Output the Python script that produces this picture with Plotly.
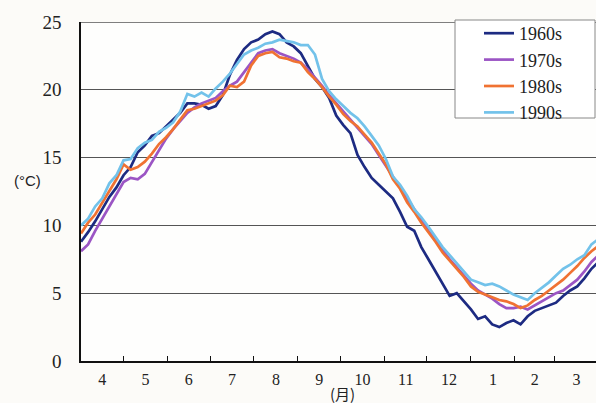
import plotly.graph_objects as go

# Day offsets from April 1 (every 5 days)
days = [5 * i for i in range(74)]

s1960 = [8.8, 9.5, 10.3, 11.2, 12.1, 12.8, 13.7, 14.3, 15.4, 15.9,
         16.6, 16.8, 17.3, 17.8, 18.3, 19.0, 19.0, 18.9, 18.6, 18.8,
         19.6, 21.1, 22.2, 23.0, 23.5, 23.7, 24.1, 24.3, 24.1, 23.5,
         23.2, 22.7, 21.8, 20.8, 20.2, 19.4, 18.1, 17.4, 16.8, 15.2,
         14.3, 13.5, 13.0, 12.5, 12.0, 11.0, 9.9, 9.6, 8.4, 7.5,
         6.6, 5.8, 4.8, 5.0, 4.4, 3.8, 3.1, 3.3, 2.7, 2.5,
         2.8, 3.0, 2.7, 3.3, 3.7, 3.9, 4.1, 4.3, 4.8, 5.2,
         5.5, 6.1, 6.8, 7.3]

s1970 = [8.1, 8.6, 9.6, 10.5, 11.4, 12.3, 13.2, 13.5, 13.4, 13.8,
         14.7, 15.6, 16.4, 17.1, 17.7, 18.3, 18.7, 19.0, 19.2, 19.4,
         19.9, 20.3, 20.6, 21.3, 22.0, 22.7, 22.9, 23.0, 22.7, 22.5,
         22.3, 22.0, 21.5, 20.9, 20.3, 19.6, 19.0, 18.4, 17.8, 17.2,
         16.6, 16.0, 15.2, 14.4, 13.5, 12.8, 12.0, 11.2, 10.4, 9.6,
         8.9, 8.2, 7.5, 6.9, 6.3, 5.7, 5.2, 4.9, 4.6, 4.2,
         3.9, 3.9, 4.0, 3.8, 4.1, 4.4, 4.7, 5.0, 5.2, 5.6,
         6.0, 6.6, 7.3, 7.8]

s1980 = [9.4, 10.2, 10.8, 11.7, 12.6, 13.4, 14.5, 14.1, 14.3, 14.7,
         15.3, 16.0, 16.5, 17.1, 17.8, 18.5, 18.6, 18.8, 19.0, 19.2,
         19.6, 20.3, 20.2, 20.6, 21.8, 22.5, 22.7, 22.8, 22.4, 22.3,
         22.1, 22.0, 21.3, 20.8, 20.2, 19.5, 18.9, 18.2, 17.7, 17.3,
         16.7, 16.1, 15.3, 14.5, 13.4, 12.7, 11.7, 11.0, 10.2, 9.5,
         8.8, 8.0, 7.4, 6.8, 6.2, 5.5, 5.1, 4.9, 4.7, 4.5,
         4.4, 4.2, 3.9, 4.1, 4.5, 4.8, 5.2, 5.6, 6.0, 6.5,
         7.0, 7.6, 8.1, 8.5]

s1990 = [10.0, 10.5, 11.4, 12.0, 13.1, 13.7, 14.8, 14.9, 15.7, 16.1,
         16.3, 16.9, 17.2, 17.6, 18.4, 19.7, 19.5, 19.8, 19.5, 20.1,
         20.6, 21.2, 21.9, 22.6, 22.9, 23.1, 23.4, 23.5, 23.7, 23.6,
         23.5, 23.3, 23.3, 22.6, 20.8, 19.9, 19.3, 18.8, 18.3, 17.9,
         17.3, 16.6, 15.9, 14.9, 13.6, 13.0, 12.2, 11.2, 10.6, 9.9,
         9.1, 8.4, 7.8, 7.2, 6.6, 6.0, 5.8, 5.6, 5.7, 5.5,
         5.2, 4.9, 4.7, 4.5, 5.0, 5.4, 5.8, 6.3, 6.8, 7.1,
         7.5, 7.8, 8.6, 9.0]

series_names = ["1960s", "1970s", "1980s", "1990s"]
series_values = [s1960, s1970, s1980, s1990]
series_colors = ["#1d2b82", "#9b55c4", "#f07232", "#72c2ea"]

month_labels = ["4", "5", "6", "7", "8", "9", "10", "11", "12", "1", "2", "3"]
month_lengths = [30, 31, 30, 31, 31, 30, 31, 30, 31, 31, 28, 31]

bounds = [0]
for m in month_lengths:
    bounds.append(bounds[-1] + m)
month_centers = [(bounds[k] + bounds[k + 1]) / 2 for k in range(12)]
month_bounds_inner = bounds[1:-1]

fig = go.Figure()
for name, vals, col in zip(series_names, series_values, series_colors):
    fig.add_trace(go.Scatter(x=days, y=vals, mode="lines", name=name,
                             line=dict(color=col, width=2.7)))

serif = "Liberation Serif"

fig.update_layout(
    width=596, height=403,
    margin=dict(l=81, r=0, t=22, b=42),
    paper_bgcolor="#fcfbf8",
    plot_bgcolor="#fefefd",
    font=dict(family=serif, color="#222"),
    showlegend=True,
    legend=dict(x=(479 - 81) / 515, y=(361 - 15) / 339,
                xanchor="left", yanchor="top",
                bgcolor="rgba(0,0,0,0)", borderwidth=0,
                font=dict(family=serif, size=18, color="#222"),
                tracegroupgap=0, itemwidth=30),
    xaxis=dict(range=[0, 363.2], showgrid=False, zeroline=False,
               showline=True, linecolor="#111", linewidth=1.5,
               tickmode="array", tickvals=month_centers, ticktext=month_labels,
               ticks="", tickfont=dict(family=serif, size=16, color="#222"),
               ticklabelstandoff=3,
               minor=dict(tickmode="array", tickvals=month_bounds_inner,
                          ticks="inside", ticklen=5, tickwidth=1.3,
                          tickcolor="#111", showgrid=False)),
    yaxis=dict(range=[0, 25], showgrid=True, gridcolor="#555", gridwidth=1.4,
               zeroline=False, showline=True, linecolor="#111", linewidth=1.5,
               tickmode="array", tickvals=[0, 5, 10, 15, 20, 25],
               ticks="", tickfont=dict(family=serif, size=19, color="#222"),
               ticklabelstandoff=14),
)

# top gridline at 25
fig.add_shape(type="line", xref="paper", yref="y", x0=0, x1=1, y0=25, y1=25,
              line=dict(color="#555", width=1.4), layer="below")

# legend box (opaque)
fig.add_shape(type="rect", xref="paper", yref="paper",
              x0=(455 - 81) / 515, x1=(595 - 81) / 515,
              y0=(361 - 118) / 339, y1=(361 - 20) / 339,
              fillcolor="#ffffff", line=dict(color="#888", width=1),
              layer="above")

fig.add_annotation(text="(°C)", xref="paper", yref="paper",
                   x=(27 - 81) / 515, y=(361 - 180) / 339,
                   xanchor="center", yanchor="middle", showarrow=False,
                   font=dict(family="Liberation Sans", size=15, color="#222"))
fig.add_annotation(text="(月)", xref="paper", yref="paper",
                   x=(342 - 81) / 515, y=(361 - 393) / 339,
                   xanchor="center", yanchor="middle", showarrow=False,
                   font=dict(family="Noto Sans CJK JP", size=15, color="#222"))

fig.write_html("out.html")
